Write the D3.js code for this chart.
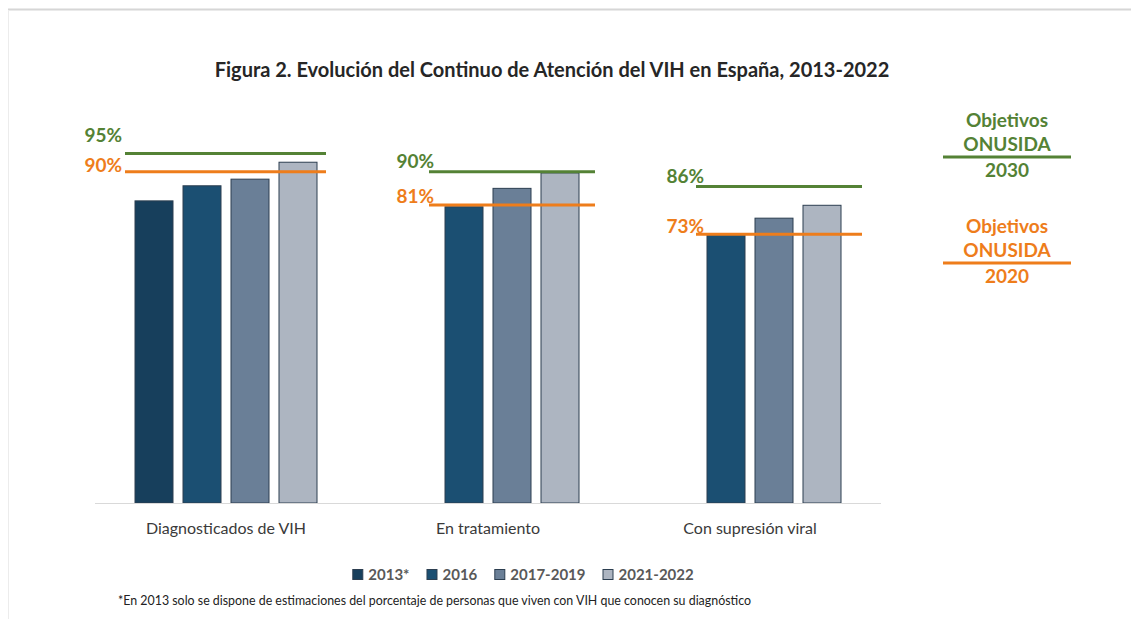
<!DOCTYPE html>
<html>
<head>
<meta charset="utf-8">
<script src="https://cdn.jsdelivr.net/npm/d3@7"></script>
<style>
  body { margin: 0; background: #fff; }
  svg { font-family: Lato, 'Open Sans', sans-serif; }
</style>
</head>
<body>
<div id="container"></div>
<script>
// data
const categories = ['Diagnosticados de VIH', 'En tratamiento', 'Con supresión viral'];
const seriesNames = ['2013*', '2016', '2017-2019', '2021-2022'];
const values2013 = [82.1, null, null];
const values2016 = [86.2, 80.5, 73.1];
const values2017 = [88.0, 85.5, 77.4];
const values2021 = [92.6, 89.7, 80.9];
const target2030 = [95, 90, 86];
const target2020 = [90, 81, 73];
const colors = ['#173f5c', '#1b4f72', '#6a7f97', '#adb5c1'];
const green = '#548235';
const orange = '#ee7d1b';

const w = 1131;
const h = 619;

const svg = d3.select('#container')
  .append('svg')
  .attr('width', w)
  .attr('height', h);

// frame lines
svg.append('line')
  .attr('x1', 8).attr('x2', w).attr('y1', 9.5).attr('y2', 9.5)
  .attr('stroke', '#d6d6d6').attr('stroke-width', 2);
svg.append('line')
  .attr('x1', 8.5).attr('x2', 8.5).attr('y1', 10).attr('y2', h)
  .attr('stroke', '#ececec').attr('stroke-width', 1);

svg.append('text')
  .attr('x', 552)
  .attr('y', 77)
  .attr('text-anchor', 'middle')
  .style('font-size', '20px')
  .style('font-weight', 'bold')
  .attr('fill', '#262626')
  .text('Figura 2. Evolución del Continuo de Atención del VIH en España, 2013-2022');

const yScale = d3.scaleLinear().domain([0, 100]).range([503, 135]);
const xScale = d3.scaleBand().domain(categories).range([95, 881]);
const xInner = d3.scaleBand().domain(seriesNames).range([40, 222]).paddingInner(10 / 48);

const rows = [values2013, values2016, values2017, values2021];
const bars = [];
categories.forEach((c, i) => {
  rows.forEach((r, j) => {
    if (r[i] != null) bars.push({ cat: c, s: seriesNames[j], v: r[i], color: colors[j] });
  });
});

svg.selectAll('rect.bar')
  .data(bars)
  .enter()
  .append('rect')
  .attr('class', 'bar')
  .attr('x', d => xScale(d.cat) + xInner(d.s))
  .attr('y', d => yScale(d.v))
  .attr('width', xInner.bandwidth())
  .attr('height', d => yScale(0) - yScale(d.v))
  .attr('fill', d => d.color)
  .attr('stroke', '#2c3e50')
  .attr('stroke-width', 1);

// baseline
svg.append('line')
  .attr('x1', xScale.range()[0]).attr('x2', xScale.range()[1])
  .attr('y1', yScale(0) + 0.5).attr('y2', yScale(0) + 0.5)
  .attr('stroke', '#d9d9d9').attr('stroke-width', 1);

const xAxis = d3.axisBottom(xScale).tickSize(0).tickPadding(20);
const gx = svg.append('g')
  .attr('transform', `translate(0, ${yScale(0)})`)
  .call(xAxis);
gx.select('.domain').remove();
gx.selectAll('text')
  .style('font-size', '16px')
  .style('font-family', 'Lato, sans-serif')
  .attr('fill', '#3a3a3a');

// target lines and labels (per-group offsets follow the original hand layout)
const padLeft = [10, 16, 11];
const padRight = [9, 16, 21];
const labelShift = [-3, 5, 8];
const targets = [
  { vals: target2030, color: green, lift: [11, 4, 4] },
  { vals: target2020, color: orange, lift: [0, 2, 1] }
];
targets.forEach(t => {
  categories.forEach((c, i) => {
    const first = i === 0 ? seriesNames[0] : seriesNames[1];
    const x1 = xScale(c) + xInner(first) - padLeft[i];
    const x2 = xScale(c) + xInner(seriesNames[3]) + xInner.bandwidth() + padRight[i];
    const y = yScale(t.vals[i]);
    svg.append('line')
      .attr('x1', x1).attr('x2', x2)
      .attr('y1', y).attr('y2', y)
      .attr('stroke', t.color).attr('stroke-width', 3);
    svg.append('text')
      .attr('x', x1 + labelShift[i])
      .attr('y', y - t.lift[i])
      .attr('text-anchor', 'end')
      .style('font-size', '19px')
      .style('font-weight', 'bold')
      .attr('fill', t.color)
      .text(t.vals[i] + '%');
  });
});

// side legend for targets
const sideItems = [
  { lines: ['Objetivos', 'ONUSIDA', '2030'], color: green, y: 127 },
  { lines: ['Objetivos', 'ONUSIDA', '2020'], color: orange, y: 233 }
];
sideItems.forEach(s => {
  const g = svg.append('g').attr('fill', s.color)
    .style('font-size', '19px').style('font-weight', 'bold');
  g.append('text').attr('x', 1007).attr('y', s.y).attr('text-anchor', 'middle').text(s.lines[0]);
  g.append('text').attr('x', 1007).attr('y', s.y + 24).attr('text-anchor', 'middle').text(s.lines[1]);
  svg.append('line')
    .attr('x1', 943).attr('x2', 1071)
    .attr('y1', s.y + 30).attr('y2', s.y + 30)
    .attr('stroke', s.color).attr('stroke-width', 3);
  g.append('text').attr('x', 1007).attr('y', s.y + 50).attr('text-anchor', 'middle').text(s.lines[2]);
});

// bottom legend
const legend = svg.append('g');
let lx = 0;
seriesNames.forEach((name, i) => {
  const item = legend.append('g').attr('transform', `translate(${lx},0)`);
  item.append('rect')
    .attr('x', 0.5).attr('y', -10.5)
    .attr('width', 10).attr('height', 10)
    .attr('fill', colors[i])
    .attr('stroke', '#2c3e50');
  const t = item.append('text')
    .attr('x', 16).attr('y', 0)
    .style('font-size', '15px')
    .style('font-weight', 'bold')
    .attr('fill', '#595959')
    .text(name);
  lx += 16 + t.node().getComputedTextLength() + 17;
});
const legendWidth = lx - 17;
legend.attr('transform', `translate(${523 - legendWidth / 2}, 580)`);

svg.append('text')
  .attr('x', 118)
  .attr('y', 605)
  .style('font-size', '12.4px')
  .attr('fill', '#222')
  .text('*En 2013 solo se dispone de estimaciones del porcentaje de personas que viven con VIH que conocen su diagnóstico');
</script>
</body>
</html>
